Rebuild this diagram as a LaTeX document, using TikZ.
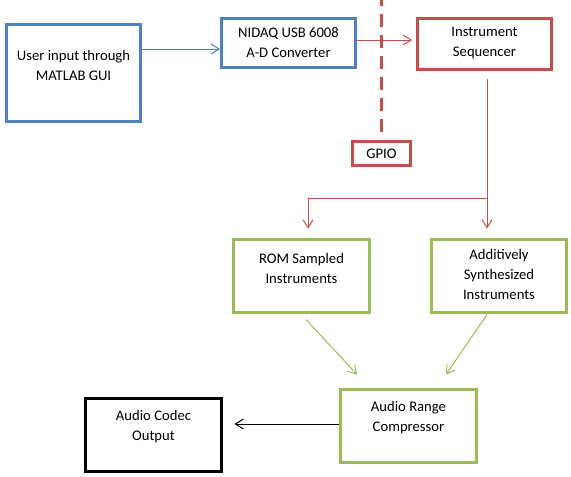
\documentclass[tikz,border=0pt]{standalone}
\usepackage{fontspec}
\setmainfont{Carlito}
\usetikzlibrary{arrows.meta}
\definecolor{boxblue}{HTML}{4F81BD}
\definecolor{boxred}{HTML}{C0504D}
\definecolor{boxgreen}{HTML}{9BBB59}

\begin{document}
\begin{tikzpicture}[x=0.75pt, y=-0.75pt,
    box/.style={draw, rectangle, line width=2.25pt, inner sep=0pt},
    bluebox/.style={box, draw=boxblue},
    redbox/.style={box, draw=boxred},
    greenbox/.style={box, draw=boxgreen, minimum width=102pt, minimum height=54.75pt},
    txt/.style={align=center, inner sep=0pt, font=\fontsize{11}{15}\selectfont},
    link/.style={line width=0.75pt, -{Straight Barb[length=6pt,width=7.5pt]}}]
    \useasboundingbox (0,0) rectangle (571,476);

    \node[bluebox, minimum width=100.5pt, minimum height=72.75pt] (user) at (73.5,73) {};
    \node[bluebox, minimum width=100.5pt, minimum height=36.75pt] (nidaq) at (288.5,43) {};
    \node[redbox, minimum width=100.5pt, minimum height=38.25pt] (seq) at (484.5,44) {};
    \node[redbox, minimum width=43.5pt, minimum height=18pt] (gpio) at (381.5,153.5) {};
    \node[greenbox] (rom) at (301.5,276) {};
    \node[greenbox, minimum width=101.25pt] (synth) at (499,276) {};
    \node[greenbox] (comp) at (408.5,426) {};
    \node[box, minimum width=102pt, minimum height=54.75pt] (codec) at (153.5,435) {};

    \node[txt] (userlbl) at ([yshift=6pt]user) {User input through\\MATLAB GUI};
    \node[txt] (nidaqlbl) at (nidaq) {NIDAQ USB 6008\\A-D Converter};
    \node[txt] (seqlbl) at ([yshift=0.75pt]seq) {Instrument\\Sequencer};
    \node[txt] (gpiolbl) at (gpio) {GPIO};
    \node[txt] (romlbl) at ([yshift=6pt]rom) {ROM Sampled\\Instruments};
    \node[txt] (synthlbl) at ([yshift=1.5pt]synth) {Additively\\Synthesized\\Instruments};
    \node[txt] (complbl) at ([yshift=6pt]comp) {Audio Range\\Compressor};
    \node[txt] (codeclbl) at ([yshift=6pt]codec) {Audio Codec\\Output};

    % GPIO boundary
    \coordinate (wall) at (380,0);
    \draw[boxred, line width=2.25pt, dash pattern=on 9.75pt off 6pt] ([yshift=6pt]gpio.north) -- (gpio.north |- wall);

    \draw[link, boxblue] ([yshift=18pt]user.east) coordinate (u) -- (u -| nidaq.west);
    \draw[link, boxred] ([yshift=2.25pt]nidaq.east) coordinate (n) -- ([xshift=-3pt]n -| seq.west);

    \coordinate (fork) at (487,198);
    \draw[link, boxred] ([yshift=-6pt]fork |- seq.south) -- ([yshift=7pt]fork |- synth.north);
    \draw[link, boxred] (fork) -| ([xshift=4.9pt,yshift=7pt]rom.north);

    \draw[link, boxgreen] ([shift={(4.5,5.5)}]rom.south) -- ([shift={(-51.5,-13.5)}]comp.north);
    \draw[link, boxgreen] ([shift={(-12,0.5)}]synth.south) -- ([shift={(37.5,-13.5)}]comp.north);
    \draw[link] ([yshift=1.5pt]comp.west) coordinate (c) -- ([xshift=8.6pt]c -| codec.east);
\end{tikzpicture}
\end{document}
